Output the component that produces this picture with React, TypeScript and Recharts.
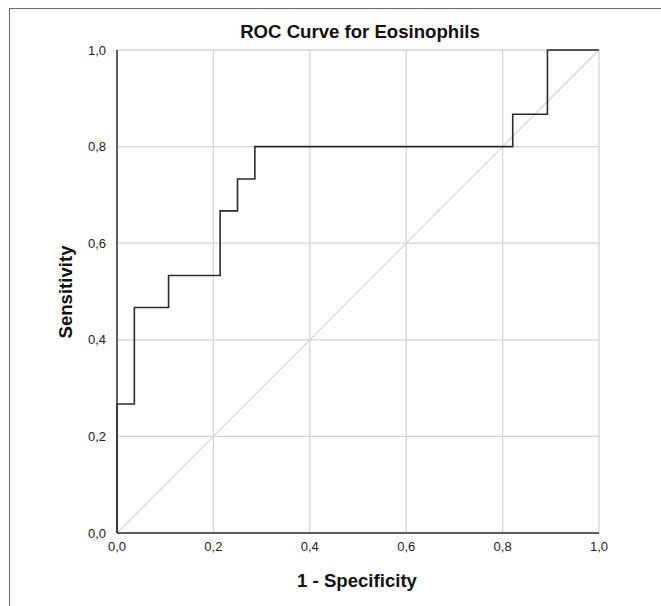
import React from 'react'
import {
  LineChart, Line, XAxis, YAxis, CartesianGrid, ReferenceLine,
} from 'recharts'

// ROC coordinates (1 - specificity, sensitivity), drawn as steps
const fpr = [0, 0, 0.036, 0.107, 0.214, 0.25, 0.286, 0.821, 0.893, 1]
const tpr = [0, 0.267, 0.467, 0.533, 0.667, 0.733, 0.8, 0.867, 1, 1]
const ticks = [0, 0.2, 0.4, 0.6, 0.8, 1]

const rocData = fpr.map((x, i) => ({ x, y: tpr[i] }))

const FONT = '"Liberation Sans", Arial, sans-serif'
const fmt = (v: number) => v.toFixed(1).replace('.', ',')

export default function App() {
  return (
    <div style={{ position: 'absolute', left: 0, top: 0, width: 661, height: 606, overflow: 'hidden', background: '#fff' }}>
      <div style={{ position: 'absolute', left: 9, top: 8, width: 700, height: 700, border: '1px solid #6b6b6b' }} />
      <div style={{ position: 'absolute', left: 0, top: 0 }}>
        <LineChart width={661} height={606} data={rocData} margin={{ top: 50, right: 62, left: 0, bottom: 0 }}>
          <CartesianGrid stroke="#d4d4d4" strokeWidth={1.3} />
          <XAxis
            type="number"
            dataKey="x"
            domain={[0, 1]}
            ticks={ticks}
            tickFormatter={fmt}
            height={73}
            tickLine={false}
            axisLine={{ stroke: '#333', strokeWidth: 1.5 }}
            tick={{ fontSize: 13, fill: '#222', fontFamily: FONT }}
            tickMargin={3}
          />
          <YAxis
            type="number"
            dataKey="y"
            domain={[0, 1]}
            ticks={ticks}
            tickFormatter={fmt}
            width={117}
            tickLine={false}
            axisLine={{ stroke: '#333', strokeWidth: 1.5 }}
            tick={{ fontSize: 13, fill: '#222', fontFamily: FONT }}
            tickMargin={5}
          />
          <ReferenceLine segment={[{ x: 0, y: 0 }, { x: 1, y: 1 }]} stroke="#d4d4d4" strokeWidth={1.2} />
          <Line
            type="stepAfter"
            dataKey="y"
            stroke="#2b2b2b"
            strokeWidth={1.6}
            dot={false}
            isAnimationActive={false}
          />
        </LineChart>
      </div>
      <svg width={661} height={606} style={{ position: 'absolute', left: 0, top: 0, pointerEvents: 'none' }}>
        <g fontFamily={FONT} fontWeight="bold" fontSize={18.6} fill="#111" textAnchor="middle">
          <text x={360} y={38}>ROC Curve for Eosinophils</text>
          <text x={357} y={587}>1 - Specificity</text>
          <text x={0} y={0} transform="translate(72, 292) rotate(-90)">Sensitivity</text>
        </g>
      </svg>
    </div>
  )
}
